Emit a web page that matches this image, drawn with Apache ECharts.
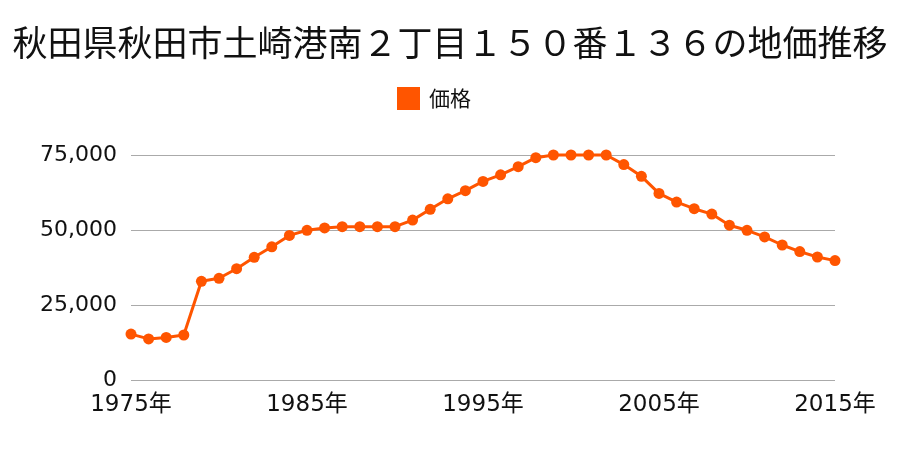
<!DOCTYPE html>
<html><head><meta charset="utf-8">
<script src="https://cdn.jsdelivr.net/npm/echarts@6/dist/echarts.min.js"></script>
<style>html,body{margin:0;padding:0;background:#fff}#c{width:900px;height:450px}</style>
</head><body><div id="c"></div>
<script>
var titleText = '秋田県秋田市土崎港南２丁目１５０番１３６の地価推移';
var seriesName = '価格';
var years = [1975,1976,1977,1978,1979,1980,1981,1982,1983,1984,1985,1986,1987,1988,1989,1990,1991,1992,1993,1994,1995,1996,1997,1998,1999,2000,2001,2002,2003,2004,2005,2006,2007,2008,2009,2010,2011,2012,2013,2014,2015];
var prices = [15300,13700,14200,15000,32900,33900,37100,40900,44400,48200,49900,50700,51100,51100,51100,51100,53300,56900,60400,63100,66200,68400,71100,74100,75000,75000,75000,75000,71800,67900,62200,59300,57100,55300,51600,49900,47700,45000,42800,41000,39800];
var yTicks = [0,25000,50000,75000];
var font = '"Noto Sans CJK JP", sans-serif';
var labelFont = '"DejaVu Sans", "Noto Sans CJK JP", sans-serif';
var chart = echarts.init(document.getElementById('c'), null, {renderer:'canvas'});
chart.setOption({
  animation:false,
  backgroundColor:'#fff',
  title:{text:titleText,left:'center',top:20,textStyle:{fontFamily:font,fontSize:35,fontWeight:'normal',color:'#111'}},
  legend:{data:[seriesName],top:82,left:392,itemWidth:23,itemHeight:23,icon:'rect',
    textStyle:{fontFamily:font,fontSize:21,color:'#111',padding:[0,0,0,4]}},
  grid:{left:131,right:65,top:155,bottom:70,containLabel:false},
  xAxis:{type:'value',min:1975,max:2015,interval:10,
    axisLine:{show:false},axisTick:{show:false},splitLine:{show:false},
    axisLabel:{fontFamily:labelFont,fontSize:23,color:'#111',margin:14,formatter:function(v){return v+'年';}}},
  yAxis:{type:'value',min:0,max:75000,interval:25000,
    axisLine:{show:false},axisTick:{show:false},
    splitLine:{lineStyle:{color:'#aaa',width:1}},
    axisLabel:{fontFamily:labelFont,fontSize:22,color:'#111',margin:14,
      formatter:function(v){return yTicks.indexOf(v)>=0?v.toLocaleString('en-US'):'';}}},
  series:[{name:seriesName,type:'line',data:years.map(function(y,i){return [y,prices[i]];}),
    color:'#ff5500',lineStyle:{width:3,color:'#ff5500'},symbol:'circle',symbolSize:11,clip:false,
    itemStyle:{color:'#ff5500'}}]
});
</script></body></html>
